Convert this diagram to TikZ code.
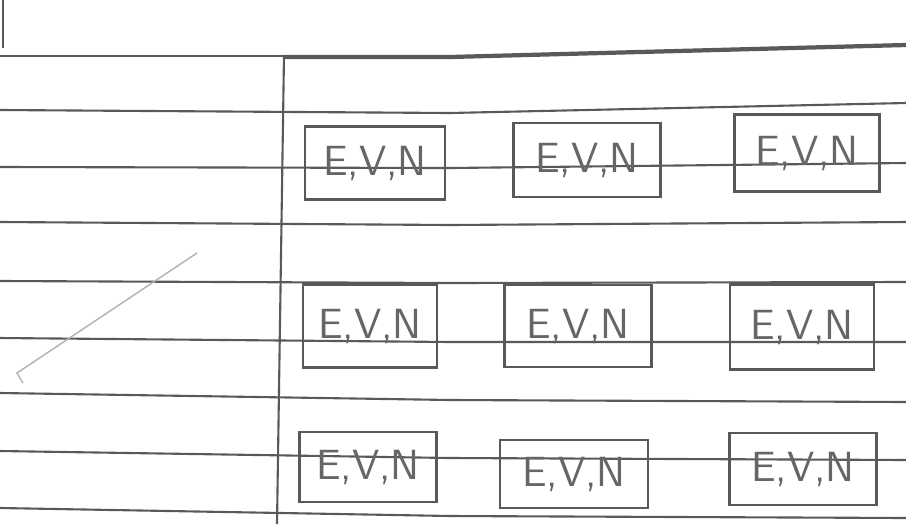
\documentclass[tikz,border=0pt]{standalone}
\begin{document}
\begin{tikzpicture}[x=0.01cm,y=-0.01cm,
  every node/.style={font=\sffamily\fontsize{12}{14}\selectfont,text=black!60},
  rule/.style={black!65,line width=0.6pt},
  evnbox/.style={draw=black!65,line width=0.7pt,inner sep=0pt}]
  \useasboundingbox (0,0) rectangle (906,524);
  % ruled lines of the sheet
  \foreach \a/\b/\c in {110/113/103,167/168/163,222/225/222,281/283/282,338/342/342,393/400/402,451/458/460,508/516/518}
    \draw[rule] (0,\a)--(450,\b)--(906,\c);
  \draw[rule] (0,56)--(284,56);
  \draw[black!65,line width=1.2pt] (284,57)--(450,57)--(906,45);
  \draw[rule] (3,0)--(3,48);
  \draw[rule] (284,55)--(277,524);
  \draw[black!30,line width=0.4pt] (197,253)--(17,373)--(23,383);
  % grid of boxes
  \node[evnbox,minimum width=1.40cm,minimum height=0.73cm] (b11) at (375,163) {E,V,N};
  \node[evnbox,minimum width=1.47cm,minimum height=0.74cm] (b12) at (587,160) {E,V,N};
  \node[evnbox,minimum width=1.45cm,minimum height=0.77cm] (b13) at (807,153) {E,V,N};
  \node[evnbox,minimum width=1.34cm,minimum height=0.83cm] (b21) at (370,326) {E,V,N};
  \node[evnbox,minimum width=1.47cm,minimum height=0.82cm] (b22) at (578,326) {E,V,N};
  \node[evnbox,minimum width=1.44cm,minimum height=0.85cm] (b23) at (802,327) {E,V,N};
  \node[evnbox,minimum width=1.37cm,minimum height=0.70cm] (b31) at (368,467) {E,V,N};
  \node[evnbox,minimum width=1.48cm,minimum height=0.68cm] (b32) at (574,474) {E,V,N};
  \node[evnbox,minimum width=1.47cm,minimum height=0.72cm] (b33) at (803,469) {E,V,N};
\end{tikzpicture}
\end{document}
